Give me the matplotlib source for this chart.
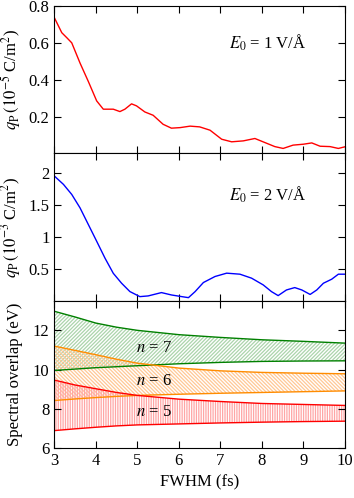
import matplotlib
matplotlib.use("Agg")
import matplotlib.pyplot as plt
import numpy as np

plt.rcParams['font.family'] = ['Liberation Serif', 'DejaVu Serif']
plt.rcParams['mathtext.fontset'] = 'stix'
plt.rcParams['font.size'] = 12
plt.rcParams['hatch.linewidth'] = 0.9

# Panel 1: E0 = 1 V/A (red)
x1 = [3.0, 3.18, 3.3, 3.42, 3.62, 3.82, 4.02, 4.18, 4.42, 4.58, 4.7, 4.86, 4.98, 5.18, 5.38,
      5.62, 5.82, 6.03, 6.27, 6.5, 6.75, 7.03, 7.27, 7.55, 7.83, 8.07, 8.31, 8.51, 8.75,
      9.0, 9.2, 9.4, 9.64, 9.84, 10.0]
q1 = [0.737, 0.655, 0.628, 0.60, 0.49, 0.39, 0.285, 0.24, 0.24, 0.227, 0.24, 0.269, 0.258,
      0.225, 0.207, 0.158, 0.137, 0.14, 0.148, 0.144, 0.126, 0.077, 0.063, 0.068, 0.081,
      0.059, 0.037, 0.027, 0.045, 0.05, 0.057, 0.039, 0.037, 0.027, 0.036]

# Panel 2: E0 = 2 V/A (blue)
x2 = [3.0, 3.22, 3.42, 3.62, 3.82, 4.02, 4.22, 4.42, 4.62, 4.82, 5.06, 5.26, 5.58, 5.82,
      6.07, 6.23, 6.39, 6.59, 6.87, 7.15, 7.47, 7.75, 8.03, 8.23, 8.39, 8.59, 8.79, 8.96,
      9.16, 9.32, 9.48, 9.68, 9.84, 10.0]
q2 = [1.948, 1.817, 1.66, 1.45, 1.19, 0.93, 0.667, 0.43, 0.275, 0.145, 0.066, 0.077, 0.129,
      0.092, 0.066, 0.05, 0.144, 0.286, 0.38, 0.432, 0.416, 0.354, 0.249, 0.144, 0.082,
      0.17, 0.207, 0.17, 0.1, 0.17, 0.275, 0.338, 0.416, 0.416]

# Panel 3: spectral overlap bands
x3 = [3, 3.5, 4, 4.5, 5, 6, 7, 8, 9, 10]
n7_hi = [12.97, 12.68, 12.37, 12.16, 12.0, 11.78, 11.64, 11.52, 11.44, 11.35]
n7_lo = [9.96, 10.03, 10.1, 10.15, 10.2, 10.3, 10.37, 10.42, 10.44, 10.45]
n6_hi = [11.2, 10.98, 10.76, 10.53, 10.33, 10.08, 9.94, 9.86, 9.82, 9.79]
n6_lo = [8.43, 8.51, 8.58, 8.64, 8.69, 8.75, 8.8, 8.84, 8.88, 8.92]
n5_hi = [9.47, 9.22, 9.03, 8.84, 8.69, 8.5, 8.38, 8.28, 8.23, 8.18]
n5_lo = [6.9, 6.99, 7.07, 7.14, 7.19, 7.24, 7.29, 7.33, 7.36, 7.38]

fig = plt.figure(figsize=(3.54, 4.98), dpi=100)
gs = fig.add_gridspec(3, 1, left=0.1534, right=0.9746, top=0.988, bottom=0.0998, hspace=0)
ax1 = fig.add_subplot(gs[0])
ax2 = fig.add_subplot(gs[1], sharex=ax1)
ax3 = fig.add_subplot(gs[2], sharex=ax1)

ax1.plot(x1, q1, color='red', lw=1.0)
ax1.set_ylim(0, 0.8)
ax1.set_yticks([0.2, 0.4, 0.6, 0.8])
ax1.set_yticklabels(['0.2', '0.4', '0.6', '0.8'])
ax1.set_ylabel(r'$q_\mathrm{P}\,(10^{-5}$ C/m$^2$)')
ax1.text(7.2, 0.6, r'$E_0$ = 1 V/Å', va='center', ha='left')

ax2.plot(x2, q2, color='blue', lw=1.0)
ax2.set_ylim(0, 2.3)
ax2.set_yticks([0.5, 1, 1.5, 2])
ax2.set_yticklabels(['0.5', '1', '1.5', '2'])
ax2.set_ylabel(r'$q_\mathrm{P}\,(10^{-3}$ C/m$^2$)')
ax2.text(7.2, 1.66, r'$E_0$ = 2 V/Å', va='center', ha='left')

bands = [(n7_lo, n7_hi, 'green', '#acd4ac', '/' * 9),
         (n6_lo, n6_hi, '#ff8c00', '#ffc895', '\\' * 9),
         (n5_lo, n5_hi, 'red', '#ffa5a5', '|' * 7)]
for lo, hi, lc, hc, h in bands:
    ax3.fill_between(x3, lo, hi, facecolor='none', edgecolor=hc, hatch=h, linewidth=0)
    ax3.plot(x3, lo, color=lc, lw=1.0)
    ax3.plot(x3, hi, color=lc, lw=1.0)
ax3.text(5.4, 11.1, r'$n$ = 7', ha='center', va='center')
ax3.text(5.4, 9.4, r'$n$ = 6', ha='center', va='center')
ax3.text(5.4, 7.87, r'$n$ = 5', ha='center', va='center')
ax3.set_ylim(6, 13.5)
ax3.set_yticks([6, 8, 10, 12])
ax3.set_ylabel('Spectral overlap (eV)')
ax3.set_xlim(3, 10)
ax3.set_xticks(range(3, 11))
ax3.set_xlabel('FWHM (fs)')

for ax in (ax1, ax2, ax3):
    ax.tick_params(direction='in', top=True, right=True, length=5, width=0.8, labelsize=12)
    for s in ax.spines.values():
        s.set_linewidth(0.8)
for ax in (ax1, ax2):
    ax.tick_params(labelbottom=False)

fig.align_ylabels([ax1, ax2, ax3])
fig.savefig('out.png', dpi=100)
